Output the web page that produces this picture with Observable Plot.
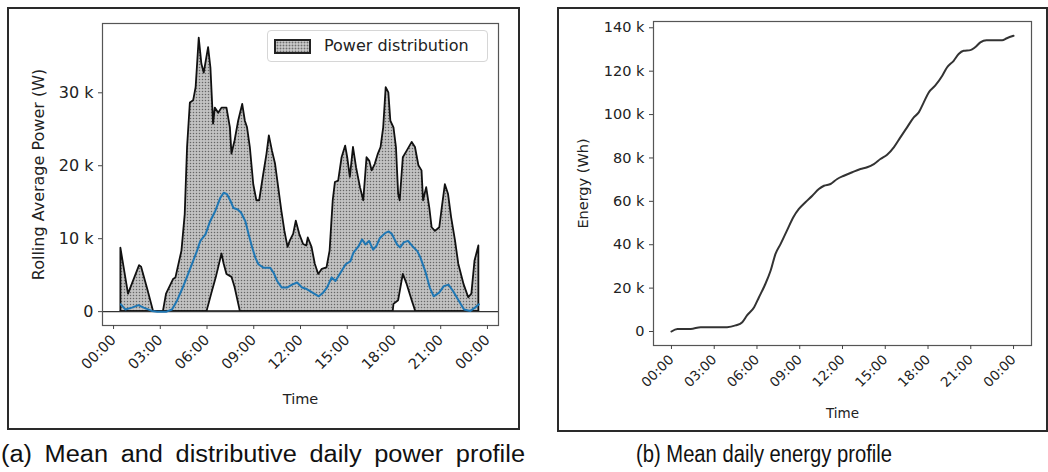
<!DOCTYPE html>
<html>
<head>
<meta charset="utf-8">
<script src="https://cdn.jsdelivr.net/npm/d3@7"></script>
<script src="https://cdn.jsdelivr.net/npm/@observablehq/plot@0.6"></script>
<style>
  body { margin: 0; background: #fff; }
  #fig { position: relative; width: 1048px; height: 472px; overflow: hidden; background: #fff; }
  .box { position: absolute; border: 2px solid #2a2a2a; box-sizing: border-box; }
  .panel { position: absolute; top: 0; }
  .cap { position: absolute; top: 441px; font-family: "Liberation Sans", Arial, sans-serif; font-size: 23px; color: #111; white-space: nowrap; transform-origin: 0 0; }
  .legend { position: absolute; left: 267px; top: 30px; width: 221px; height: 32px; box-sizing: border-box; background: rgba(255,255,255,0.85); border: 1px solid #d6d6d6; border-radius: 4px; }
  .patch { position: absolute; left: 6px; top: 8px; width: 37px; height: 15px; box-sizing: border-box; border: 2px solid #222;
           background: radial-gradient(circle, #6e6e6e 0.8px, transparent 1.1px) 0 0 / 3px 3px, #c6c6c6; }
  .ltext { position: absolute; left: 56px; top: 5px; font-family: "DejaVu Sans", sans-serif; font-size: 16px; color: #222; }
</style>
</head>
<body>
<div id="fig">
  <div class="box" style="left:7px;top:7px;width:513px;height:423px"></div>
  <div class="box" style="left:557px;top:7px;width:491px;height:425px"></div>
  <div id="pa" class="panel" style="left:0px"></div>
  <div id="pb" class="panel" style="left:540px"></div>
  <div class="legend"><span class="patch"></span><span class="ltext">Power distribution</span></div>
  <div id="capA" class="cap" style="left:1px;word-spacing:5px">(a) Mean and distributive daily power profile</div>
  <div id="capB" class="cap" style="left:636px">(b) Mean daily energy profile</div>
</div>
<script>
// ---- Data (hours of day, watts / watt-hours) ----
const upperHours  = [0.47,0.96,1.67,1.8,2.2,2.57,3.2,3.4,3.85,4.0,4.39,4.6,4.75,4.93,5.14,5.3,5.5,5.67,5.82,6.1,6.25,6.42,6.53,6.75,6.96,7.28,7.5,7.6,7.8,8.03,8.29,8.46,8.6,8.78,9.0,9.2,9.38,9.64,9.85,10.0,10.2,10.4,10.6,10.8,11.0,11.2,11.35,11.56,11.73,11.95,12.2,12.4,12.5,12.74,12.95,13.17,13.4,13.7,13.9,14.1,14.24,14.45,14.67,14.9,15.03,15.2,15.4,15.6,15.85,16.06,16.27,16.45,16.6,16.8,17.0,17.17,17.34,17.5,17.67,17.8,18.0,18.16,18.3,18.4,18.6,18.85,19.17,19.38,19.6,19.8,19.9,20.1,20.3,20.45,20.66,20.94,21.1,21.3,21.5,21.7,21.95,22.16,22.5,22.8,23.0,23.2,23.45];
const upperPower  = [8700,2400,6300,6100,3000,0,0,2400,4400,4600,8300,13300,22500,28600,28900,30700,37500,33900,32700,36200,33400,25700,27900,27200,27900,27900,25200,21600,23400,26100,28400,26100,25200,22500,17400,15200,15200,18800,21600,24100,22000,20200,17000,13800,11000,8800,9700,10600,12400,10600,9200,9000,10100,8800,6500,5100,5800,6000,8300,15200,17700,17900,21100,22700,21100,18400,22500,19700,17000,15200,21100,20600,19300,20200,21600,22500,25200,30700,30000,26100,25200,22500,16100,15200,21100,22000,23200,22500,20000,19300,15200,17000,14200,11500,11000,11500,14200,17400,16100,12900,9700,6500,3700,1900,2400,6900,9000];

const lowerHours  = [0.47,6.0,6.3,6.6,6.96,7.1,7.28,7.6,7.8,8.14,17.95,18.0,18.3,18.6,18.85,19.17,19.4,23.45];
const lowerPower  = [0,0,2400,4700,7900,6500,5100,4700,3300,0,0,1000,1500,5100,3700,1500,0,0];

const meanHours   = [0.47,0.75,1.18,1.6,1.93,2.46,2.8,3.4,3.75,4.07,4.4,4.7,5.03,5.35,5.57,5.9,6.2,6.53,6.85,7.07,7.28,7.5,7.7,7.97,8.18,8.46,8.67,8.9,9.1,9.3,9.64,10.06,10.28,10.5,10.8,11.13,11.46,11.78,12.1,12.4,12.85,13.17,13.45,13.7,14.0,14.24,14.56,14.9,15.2,15.4,15.74,15.95,16.17,16.4,16.66,16.87,17.1,17.45,17.67,17.88,18.2,18.4,18.63,18.9,19.17,19.5,19.7,20.0,20.3,20.55,20.9,21.2,21.5,21.8,22.16,22.5,22.9,23.2,23.45];
const meanPower   = [1000,300,550,900,550,100,0,0,300,1500,3100,4700,6500,8300,9700,10600,12400,13800,15600,16300,16100,15200,14200,14000,13600,12400,10600,8800,7400,6500,6000,6000,5300,4200,3300,3300,3700,4000,3300,3100,2500,2100,2600,3300,4700,4200,5300,6500,6900,8100,9000,9900,9200,9700,8500,9000,10100,10800,11000,10600,9200,8800,9500,9700,9000,8300,7400,5600,3300,2100,2600,3500,3700,2800,1500,300,100,550,1000];

const energyHours = [0,0.42,1.35,2.05,3.0,3.9,4.5,4.97,5.3,5.8,6.14,6.54,6.96,7.3,7.66,8.1,8.55,8.94,9.4,9.88,10.34,10.7,11.16,11.63,12.1,12.68,13.26,13.73,14.2,14.66,15.13,15.6,16.06,16.53,17.0,17.35,17.7,18.05,18.5,19.0,19.33,19.8,20.15,20.5,20.97,21.3,21.67,22.1,22.6,23.2,23.53,24.0];
const energyWh    = [0,1200,1200,2000,2000,2000,2800,4300,7400,11200,15800,21200,28100,35800,40400,46500,52700,56500,59600,62600,65700,67200,68000,70300,71800,73400,74900,75700,77200,79500,81500,84900,89500,94100,98700,101000,105600,110200,113300,117900,121700,124800,127900,129400,129700,131000,133300,134300,134300,134300,135200,136300];

const hourTicks      = [0,3,6,9,12,15,18,21,24];
const hourTickLabels = ["00:00","03:00","06:00","09:00","12:00","15:00","18:00","21:00","00:00"];
const powerTicks     = [0,10000,20000,30000];
const powerTickLabels= ["0","10 k","20 k","30 k"];
const energyTicks    = [0,20000,40000,60000,80000,100000,120000,140000];
const energyTickLabels = ["0","20 k","40 k","60 k","80 k","100 k","120 k","140 k"];

// ---- tables ----
const zip = (hs, vs) => hs.map((h, i) => ({h, v: vs[i]}));
const upper = zip(upperHours, upperPower);
const lower = zip(lowerHours, lowerPower);
const mean = zip(meanHours, meanPower);
const energy = zip(energyHours, energyWh);

const hourFmt = h => hourTickLabels[hourTicks.indexOf(h)];
const fmtFrom = (ticks, labels) => d => labels[ticks.indexOf(d)];

const plotA = Plot.plot({
  width: 520, height: 430,
  marginLeft: 102, marginRight: 22, marginTop: 23, marginBottom: 105,
  style: {fontFamily: "DejaVu Sans, sans-serif", fontSize: "14px", color: "#222", background: "transparent", overflow: "visible"},
  x: {domain: [-0.71, 24.71]},
  y: {domain: [-1900, 39500]},
  marks: [
    Plot.areaY(upper, {x: "h", y1: 0, y2: "v", fill: "url(#dots)", stroke: "#111", strokeWidth: 1.8}),
    Plot.areaY(lower, {x: "h", y1: 0, y2: "v", fill: "white", stroke: "#111", strokeWidth: 1.8}),
    Plot.ruleY([0], {stroke: "#333", strokeWidth: 1.2}),
    Plot.lineY(mean, {x: "h", y: "v", stroke: "#1f77b4", strokeWidth: 2}),
    Plot.frame({stroke: "#555", strokeWidth: 1.2}),
    Plot.axisX({ticks: hourTicks, tickFormat: hourFmt, tickRotate: -45, tickSize: 4, stroke: "#444",
                label: "Time", labelAnchor: "center", labelArrow: "none", labelOffset: 78, fontSize: 14.5}),
    Plot.axisY({ticks: powerTicks, tickFormat: fmtFrom(powerTicks, powerTickLabels), tickSize: 4, stroke: "#444",
                label: "Rolling Average Power (W)", labelAnchor: "center", labelArrow: "none", labelOffset: 70, fontSize: 16})
  ]
});
const defs = d3.select(plotA).insert("defs", ":first-child");
const pat = defs.append("pattern").attr("id", "dots").attr("width", 3).attr("height", 3).attr("patternUnits", "userSpaceOnUse");
pat.append("rect").attr("width", 3).attr("height", 3).attr("fill", "#c2c2c2");
pat.append("circle").attr("cx", 1.5).attr("cy", 1.5).attr("r", 0.75).attr("fill", "#666");
document.getElementById("pa").appendChild(plotA);

const plotB = Plot.plot({
  width: 508, height: 430,
  marginLeft: 113, marginRight: 17, marginTop: 21, marginBottom: 85,
  style: {fontFamily: "DejaVu Sans, sans-serif", fontSize: "13px", color: "#222", background: "transparent", overflow: "visible"},
  x: {domain: [-1.26, 25.26]},
  y: {domain: [-6450, 142900]},
  marks: [
    Plot.lineY(energy, {x: "h", y: "v", stroke: "#333", strokeWidth: 2, curve: "monotone-x"}),
    Plot.frame({stroke: "#555", strokeWidth: 1.2}),
    Plot.axisX({ticks: hourTicks, tickFormat: hourFmt, tickRotate: -45, tickSize: 4, stroke: "#444",
                label: "Time", labelAnchor: "center", labelArrow: "none", labelOffset: 72, fontSize: 13.5}),
    Plot.axisY({ticks: energyTicks, tickFormat: fmtFrom(energyTicks, energyTickLabels), tickSize: 4, stroke: "#444",
                label: "Energy (Wh)", labelAnchor: "center", labelArrow: "none", labelOffset: 76, fontSize: 14.5})
  ]
});
document.getElementById("pb").appendChild(plotB);

// fit captions to their measured widths in the reference
function fit(id, target) {
  const el = document.getElementById(id);
  const w = el.getBoundingClientRect().width;
  el.style.transform = `scaleX(${target / w})`;
}
fit("capA", 524);
fit("capB", 256);
</script>
</body>
</html>
